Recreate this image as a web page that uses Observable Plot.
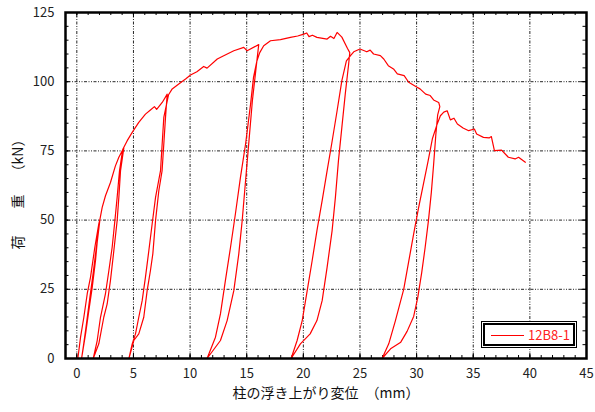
<!DOCTYPE html>
<html><head><meta charset="utf-8">
<script src="https://cdn.jsdelivr.net/npm/d3@7"></script>
<script src="https://cdn.jsdelivr.net/npm/@observablehq/plot@0.6"></script>
<style>
body{margin:0;background:#fff;}
#wrap{position:relative;width:595px;height:412px;overflow:hidden;}
#legend{position:absolute;left:481px;top:321px;width:96px;height:27px;box-sizing:border-box;border:1px solid #000;padding:1px;background:#fff;}
#legend .inner{width:100%;height:100%;box-sizing:border-box;border:2px solid #000;position:relative;}
#legend .sw{position:absolute;left:6px;top:10px;width:33px;height:0;border-top:1.2px solid #ff0000;}
#legend .lb{position:absolute;left:43px;top:0;line-height:19px;font:13px "Noto Sans CJK JP",sans-serif;color:#ff2020;}
</style></head><body>
<div id="wrap"></div>
<script>
const seriesName = "12B8-1";
const xLabel = "柱の浮き上がり変位　（mm）";
const yLabelParts = ["荷", "重", "（kN）"];
const xTicks = [0,5,10,15,20,25,30,35,40,45];
const yTicks = [0,25,50,75,100,125];
const xMinorTicks = d3.range(-1,46,1);
const yMinorTicks = d3.range(0,126,5);

// column uplift displacement (mm), in test order
const displacement = [
 0.09,0.33,0.62,0.92,1.21,1.59,1.94,2.05,
 1.8,1.65,1.36,1.06,0.77,0.42,
 0.6,0.85,1.15,1.45,1.72,1.98,2.24,2.53,2.97,3.4,3.71,4.15,
 3.86,3.71,3.56,3.27,2.97,2.68,2.38,1.94,1.45,
 1.8,2.09,2.53,2.83,3.12,3.36,3.56,3.77,4.05,4.45,4.89,5.47,6.06,6.5,6.85,7.05,7.54,7.98,
 7.83,7.53,7.24,6.95,6.71,6.5,6.21,5.91,5.47,5.03,4.6,
 4.89,5.18,5.47,5.77,6.06,6.36,6.65,6.95,7.39,7.68,8.1,8.42,9.0,9.6,10.04,10.6,11.2,11.5,12.4,12.97,13.86,14.74,15.04,16.06,
 15.8,15.5,15.2,14.9,14.6,14.3,13.86,13.27,12.68,11.5,
 12.24,12.68,13.12,13.57,14.0,14.45,14.9,15.34,15.6,15.9,16.15,16.5,17.1,17.98,18.86,19.5,20.04,20.3,20.5,20.8,21.2,22.1,22.4,22.7,22.98,23.4,23.9,
 24.1,24.0,23.7,23.4,23.1,22.83,22.54,22.1,21.66,21.2,20.6,19.74,18.92,
 19.45,19.9,20.34,20.78,21.2,21.66,22.1,22.5,22.98,23.4,23.8,24.2,24.45,25.0,25.6,25.9,26.2,26.8,27.1,27.5,27.96,28.3,28.9,29.3,30.04,30.3,30.8,31.2,31.5,31.95,32.05,
 31.86,31.7,31.5,31.3,31.05,30.75,30.45,30.1,29.74,29.16,28.6,27.7,26.95,
 27.54,28.13,28.86,29.3,29.74,30.15,30.55,31.0,31.4,31.8,32.1,32.4,32.7,32.98,33.3,33.6,34.1,34.6,35.1,35.3,35.9,36.4,36.6,36.87,37.5,38.1,38.7,39.0,39.6
];
// load (kN)
const load = [
 0,7.7,14.9,23.4,29.4,40.2,48.6,50.5,
 42,35.4,25.7,17.3,8.9,0,
 5,12.5,22,31,40,49,54.6,58.8,63.6,69.5,72.7,76.1,
 67.9,58.2,49.8,39,28.2,19.7,14.9,5.3,0,
 6.5,14.9,23.4,31.8,40.2,49.8,58.2,67.9,75.5,78.7,81.7,85.3,88.3,89.8,91.0,90.0,92.5,95.5,
 87.1,67.9,60.6,49.8,37.8,31.8,24.5,14.9,8.9,6.5,0,
 5.3,8.9,14.9,20.9,29.4,39,48.6,58.2,67.9,87.1,95.3,97.4,99.2,101,102.4,103.6,105.5,104.9,108.2,109.4,111.2,112.4,111.2,113.4,
 104,93.1,78.7,64.3,49.8,37.8,24.5,13.7,6.5,0,
 7.7,16.1,28.2,40.2,52.2,65.5,77.5,91.9,101.6,107.5,110.5,113,114.8,115.2,116,116.5,117.2,117.6,116.3,116.8,116,115.4,116.4,115.6,117.8,116.1,112,
 110.5,106.4,95.5,83.5,71.5,58.2,46.2,33,20.9,13.7,8.9,5.3,0,
 6.5,13.7,24.5,35.4,46.2,57,67.9,77.5,89.5,100.4,107.5,109.6,110.8,111.8,110.8,111.4,110,109.4,108.2,105.8,104.6,102.8,102.2,99.8,98,97.4,95.5,95,93.4,92.5,91,
 88,81,70,60,50,40,31,22,15.2,9.8,5.9,3.5,0,
 5.3,13.7,25,35,45,54,62,71,79.5,84.5,87.7,89,89.5,86.2,86.8,84.7,83.3,82.3,82.9,81.1,79.9,79.7,80.2,75.1,75.3,72.7,72.1,72.7,70.9
];

const W = 595, H = 412, mT = 12, mB = 54, mL = 65, mR = 9;
const innerH = H - mT - mB, innerW = W - mL - mR;
const data = displacement.map((x, i) => ({x, y: load[i]}));
const grid = {stroke: "#000", strokeOpacity: 0.85, strokeWidth: 1, strokeDasharray: "3,1.5,1,1.5,1,1.5"};
const font = '"Noto Sans CJK JP", "Noto Sans", sans-serif';
const yLabelOffsets = [57, 16, -30];
const yLabelStyle = {frameAnchor: "left", dx: -47, rotate: -90, textAnchor: "middle", fontSize: 14, fill: "#111"};

const chart = Plot.plot({
  width: W, height: H,
  marginTop: mT, marginBottom: mB, marginLeft: mL, marginRight: mR,
  x: {domain: [-1, 45]},
  y: {domain: [0, 125]},
  style: {fontFamily: font, fontSize: "13px", color: "#222", background: "#fff", overflow: "visible"},
  marks: [
    Plot.ruleX(xTicks.filter(d => d < 45), grid),
    Plot.ruleY(yTicks.filter(d => d > 0 && d < 125), grid),
    // inward tick marks on all four sides
    Plot.tickX(xMinorTicks, {x: d => d, insetTop: innerH - 3, stroke: "#000"}),
    Plot.tickX(xMinorTicks, {x: d => d, insetBottom: innerH - 3, stroke: "#000"}),
    Plot.tickX(xTicks, {x: d => d, insetTop: innerH - 5, stroke: "#000"}),
    Plot.tickX(xTicks, {x: d => d, insetBottom: innerH - 5, stroke: "#000"}),
    Plot.tickY(yMinorTicks, {y: d => d, insetRight: innerW - 3.5, stroke: "#000"}),
    Plot.tickY(yMinorTicks, {y: d => d, insetLeft: innerW - 3.5, stroke: "#000"}),
    Plot.tickY(yTicks, {y: d => d, insetRight: innerW - 5, stroke: "#000"}),
    Plot.tickY(yTicks, {y: d => d, insetLeft: innerW - 5, stroke: "#000"}),
    Plot.line(data, {x: "x", y: "y", stroke: "#ff0000", strokeWidth: 1.2, curve: "linear"}),
    Plot.frame({stroke: "#000", strokeWidth: 2.5}),
    Plot.axisX(xTicks, {tickSize: 0, tickPadding: 10, fill: "#222", label: null}),
    Plot.axisY(yTicks, {tickSize: 0, tickPadding: 11, fill: "#222", label: null}),
    Plot.text([xLabel], {frameAnchor: "bottom", dy: 39, text: d => d, textAnchor: "middle", fontSize: 14, fill: "#111"}),
    ...yLabelParts.map((t, i) => Plot.text([t], {...yLabelStyle, text: d => d, dy: yLabelOffsets[i]}))
  ]
});
const wrap = document.getElementById("wrap");
wrap.appendChild(chart);
const lg = document.createElement("div");
lg.id = "legend";
lg.innerHTML = '<div class="inner"><div class="sw"></div><div class="lb"></div></div>';
lg.querySelector(".lb").textContent = seriesName;
wrap.appendChild(lg);
</script>
</body></html>
